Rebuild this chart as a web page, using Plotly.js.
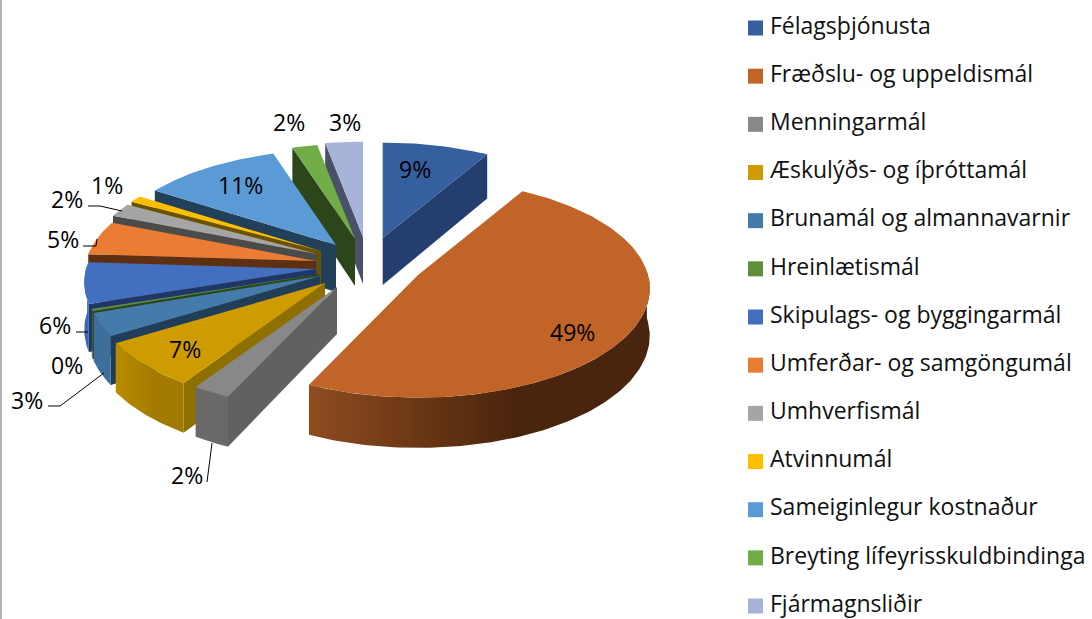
<!DOCTYPE html>
<html>
<head>
<meta charset="utf-8">
<script src="https://cdn.plot.ly/plotly-3.0.1.min.js"></script>
<style>html,body{margin:0;padding:0;background:#fff}#chart{width:1092px;height:619px}</style>
</head>
<body>
<div id="chart"></div>
<script>
// ---- data ----
const categories = ["Félagsþjónusta","Fræðslu- og uppeldismál","Menningarmál","Æskulýðs- og íþróttamál","Brunamál og almannavarnir","Hreinlætismál","Skipulags- og byggingarmál","Umferðar- og samgöngumál","Umhverfismál","Atvinnumál","Sameiginlegur kostnaður","Breyting lífeyrisskuldbindinga","Fjármagnsliðir"];
const values = [8.5,48.5,2.4,6.9,3.4,0.3,6.0,5.0,2.0,1.0,11.0,2.0,3.0];
// ---- styles ----
const topColors = ["#365f9f","#c06428","#888888","#cf9c00","#457baa","#5f8f3a","#426fc0","#ea7c33","#a5a5a5","#fdbf00","#5b9bd5","#70ad47","#a5b4d8"];
const cutColors = ["#243f6f","#4d260d","#616161","#8e7000","#213d58","#2d451b","#1f3768","#5f2f12","#4b4b4b","#6b5200","#23405a","#2d451b","#4b5069"];
const wallLeft  = ["#243f6f","#8f4c1f","#696969","#b88b00","#3e6f9c","#3d5f28","#3765b3","#5f2f12","#4b4b4b","#6b5200","#23405a","#2d451b","#4b5069"];
const wallRight = ["#243f6f","#4a250d","#696969","#a27a00","#3e6f9c","#3d5f28","#3a66b5","#5f2f12","#4b4b4b","#6b5200","#23405a","#2d451b","#4b5069"];
// top-surface tip of every exploded slice, in chart pixels
const tipX = [382.7,418,337,325,320,319,316,316,317,321,336,355,363];
const tipY = [238,275,287,283,276,274,269,261,254,251,245,239,237];
const labelX = [415,572,187,185,27,67,55,63,67,107,240,289,345];
const labelY = [169,332,475,349,400,365,325,239,199,185,185,122,122];
const leaderX = [[48,60,104],[207,212],[76,88],[83,96,97],[88,100,122]];
const leaderY = [[406,406,373],[482,443],[332,332],[246,246,239],[206,206,211]];
const R = 230, RY = 109, PERSP = 0.125, H = 47;
const font = "Open Sans, sans-serif";

const rad = d => d * Math.PI / 180;
function rim(i, deg) {
  const Y = -Math.cos(rad(deg)), f = 1 + PERSP * Y;
  return [tipX[i] + R * Math.sin(rad(deg)) * f, tipY[i] + RY * Y * f, H * (1 + 0.07 * Y)];
}
function poly(xs, ys, color, grad) {
  const t = {type:"scatter", mode:"lines", x:xs, y:ys, fill:"toself", fillcolor:color,
    line:{width:0}, hoverinfo:"skip", showlegend:false};
  if (grad) t.fillgradient = {type:"horizontal", colorscale:[[0,grad[0]],[0.6,grad[1]],[1,grad[1]]]};
  return t;
}
function sliceTraces(i, a0, a1) {
  const out = [];
  const cut = deg => {
    const p = rim(i, deg);
    out.push(poly([tipX[i], p[0], p[0], tipX[i], tipX[i]],
                  [tipY[i], p[1], p[1] + p[2], tipY[i] + H, tipY[i]], cutColors[i]));
  };
  if (Math.sin(rad(a0)) < 0) cut(a0);
  if (Math.sin(rad(a1)) > 0) cut(a1);
  const w0 = Math.max(a0, 88), w1 = Math.min(a1, 272);
  if (w1 > w0) {
    const up = [], dn = [];
    for (let d = w0; d <= w1 + 1e-6; d += (w1 - w0) / Math.max(2, Math.ceil(w1 - w0))) {
      const p = rim(i, d); up.push([p[0], p[1]]); dn.unshift([p[0], p[1] + p[2]]);
    }
    const all = up.concat(dn); all.push(all[0]);
    out.push(poly(all.map(p => p[0]), all.map(p => p[1]), wallLeft[i], [wallLeft[i], wallRight[i]]));
  }
  const xs = [tipX[i]], ys = [tipY[i]];
  const steps = Math.max(2, Math.ceil(a1 - a0));
  for (let k = 0; k <= steps; k++) {
    const p = rim(i, a0 + (a1 - a0) * k / steps); xs.push(p[0]); ys.push(p[1]);
  }
  xs.push(tipX[i]); ys.push(tipY[i]);
  out.push(poly(xs, ys, topColors[i]));
  return out;
}

const total = values.reduce((a, b) => a + b, 0);
let acc = 0;
const spans = values.map(v => { const a = acc; acc += v; return [a / total * 360, acc / total * 360]; });
// paint from the back of the pie to the front
const order = [12,11,10,9,8,7,6,5,4,3,2,0,1];
let traces = [];
order.forEach(i => { traces = traces.concat(sliceTraces(i, spans[i][0], spans[i][1])); });

// leader lines
leaderX.forEach((lx, k) => traces.push({type:"scatter", mode:"lines", x:lx, y:leaderY[k],
  line:{color:"#000000", width:1}, hoverinfo:"skip", showlegend:false}));

// legend
const legY = categories.map((c, i) => 28 + i * 48.17);
traces.push({type:"scatter", mode:"markers", x:categories.map(() => 755.5), y:legY,
  marker:{symbol:"square", size:15, color:topColors, line:{width:0}}, hoverinfo:"skip", showlegend:false});
traces.push({type:"scatter", mode:"text", x:categories.map(() => 770), y:legY, text:categories,
  textposition:"middle right", textfont:{family:font, size:23, color:"#111111"}, hoverinfo:"skip", showlegend:false, cliponaxis:false});

const annotations = values.map((v, i) => ({x:labelX[i], y:labelY[i], xref:"x", yref:"y",
  text:Math.round(v) + "%", showarrow:false, xanchor:"center", yanchor:"middle",
  font:{family:font, size:23, color:"#000000"}}));

const layout = {
  width:1092, height:619, margin:{l:0,r:0,t:0,b:0}, showlegend:false,
  paper_bgcolor:"#ffffff", plot_bgcolor:"#ffffff",
  xaxis:{range:[0,1092], visible:false, fixedrange:true},
  yaxis:{range:[619,0], visible:false, fixedrange:true},
  annotations,
  shapes:[{type:"rect", xref:"x", yref:"y", x0:0, x1:2, y0:0, y1:619, fillcolor:"#b2b2b2", line:{width:0}, layer:"below"}]
};
Plotly.newPlot("chart", traces, layout, {displayModeBar:false, staticPlot:true});
</script>
</body>
</html>
